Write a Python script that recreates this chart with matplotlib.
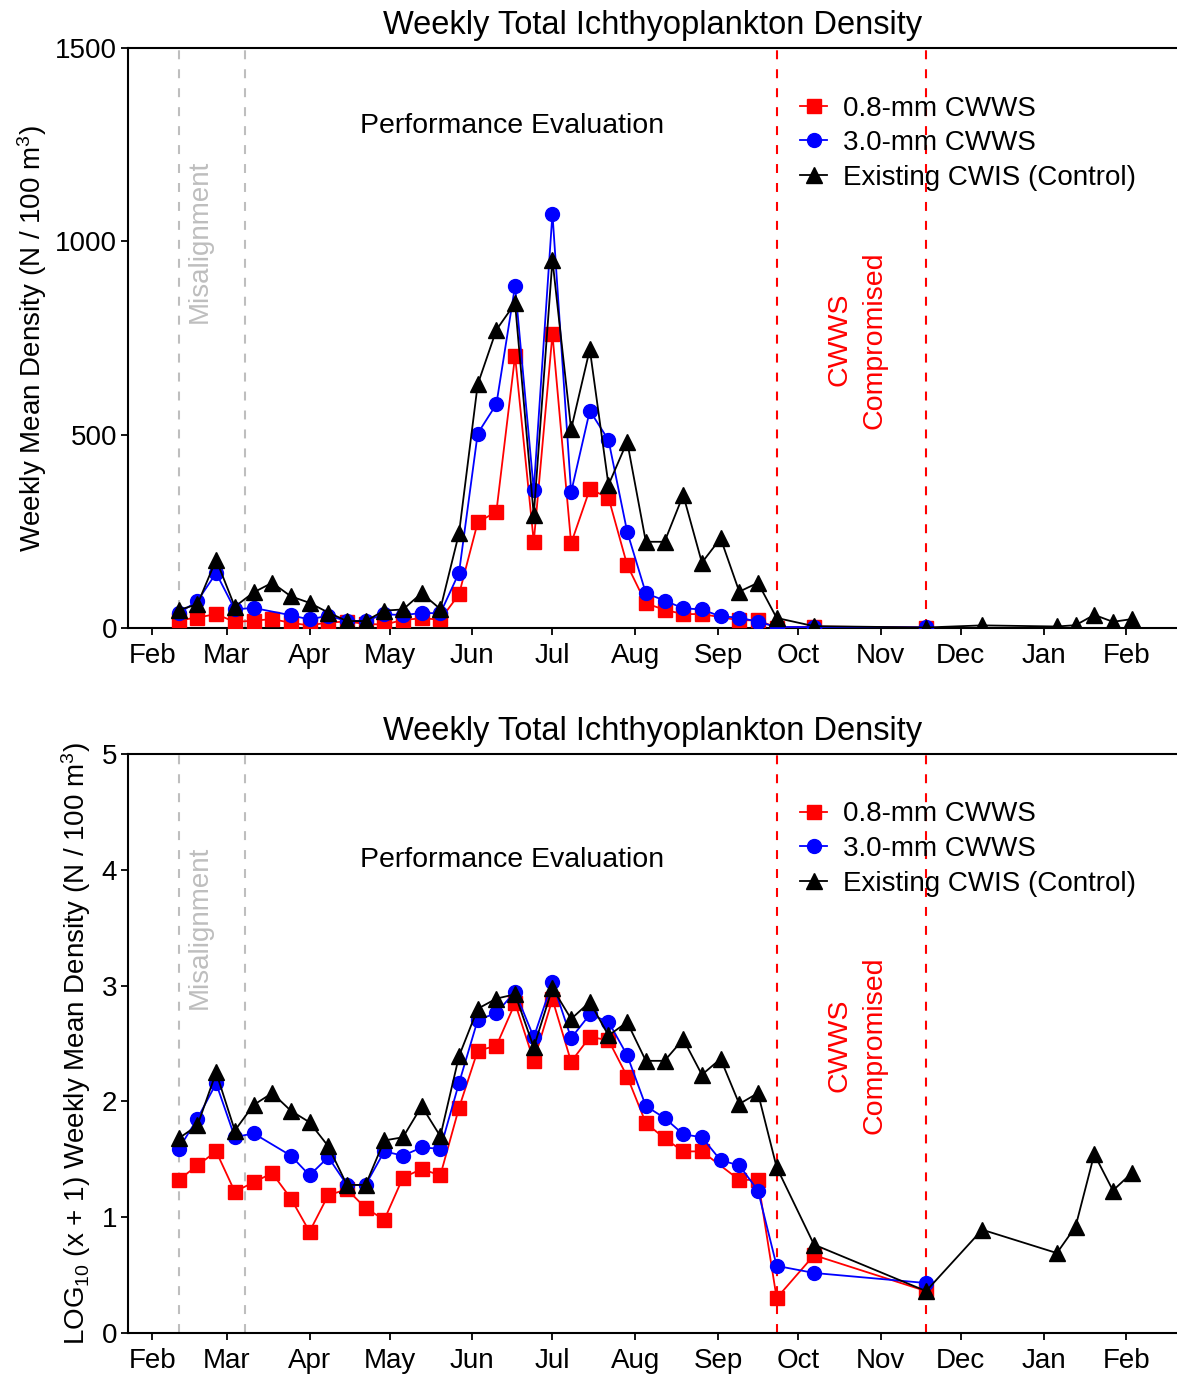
import numpy as np
import matplotlib
matplotlib.use("Agg")
import matplotlib.pyplot as plt
import matplotlib.dates as mdates
from matplotlib.lines import Line2D

plt.rcParams['font.family'] = ['Liberation Sans', 'DejaVu Sans']
plt.rcParams['mathtext.default'] = 'regular'

# weekly sampling, week 0 = 11 Feb
start = np.datetime64('2006-02-11')
weeks = list(range(33)) + [34, 40, 43, 47, 48, 49, 50, 51]
screen_weeks = list(range(33)) + [34, 40]

# weekly mean density (N / 100 m3)
fine_mesh = [20, 27, 36, 15.6, 19, 23, 13.5, 6.5, 14.5, 16.4, 11, 8.5, 21, 25, 22,
             87, 273, 301, 704, 223, 760, 219, 359, 337, 163, 64, 47, 36, 36, np.nan,
             20, 20, 1.0, 3.7, 1.3]
coarse_mesh = [38, 70, 142, 48, 52, np.nan, 33, 22, 32, 18, 18, 36, 33, 39, 38,
               143, 503, 579, 885, 357, 1072, 351, 562, 486, 249, 90, 71, 51, 48, 30,
               27, 16, 2.8, 2.3, 1.7]
control = [47, 61, 177, 55, 92, 117, 82, 65, 40, 18, 18, 45, 48, 90, 49,
           245, 630, 771, 840, 292, 952, 514, 721, 370, 482, 223, 223, 344, 169, 232,
           94, 117, 26, 4.8, 1.3, 6.8, 3.9, 7.3, 34, 16, 23]

misalign = ['2006-02-11', '2006-03-08']
compromised = ['2006-09-23', '2006-11-18']

series = [
    ('0.8-mm CWWS', screen_weeks, fine_mesh, 'red', 's', 10),
    ('3.0-mm CWWS', screen_weeks, coarse_mesh, 'blue', 'o', 10),
    ('Existing CWIS (Control)', weeks, control, 'black', '^', 11),
]


def draw_panel(ax, log_scale):
    for label, wk, vals, color, marker, ms in series:
        wk = np.array(wk)
        vals = np.array(vals, dtype=float)
        ok = ~np.isnan(vals)
        dates = start + wk[ok] * np.timedelta64(7, 'D')
        y = np.log10(vals[ok] + 1) if log_scale else vals[ok]
        ax.plot(dates, y, color=color, marker=marker, markersize=ms, lw=1.3,
                label=label, zorder=3)

    for d in misalign:
        ax.axvline(np.datetime64(d), color='#bebebe', lw=1.5, ls=(0, (4.3, 4.8)), zorder=1)
    for d in compromised:
        ax.axvline(np.datetime64(d), color='red', lw=1.5, ls=(0, (4.3, 4.8)), zorder=1)

    ax.set_xlim(np.datetime64('2006-01-23'), np.datetime64('2007-02-20'))
    ax.xaxis.set_major_locator(mdates.MonthLocator())
    ax.xaxis.set_major_formatter(mdates.DateFormatter('%b'))

    for side in ['left', 'bottom', 'top']:
        ax.spines[side].set_linewidth(1.5)
    ax.spines['right'].set_visible(False)
    ax.tick_params(direction='out', length=5, width=1.3, labelsize=20)
    ax.tick_params(axis='x', pad=6)
    ax.tick_params(axis='y', pad=3)

    ax.set_title('Weekly Total Ichthyoplankton Density', fontsize=23.5, pad=10)

    handles = [Line2D([], [], color=c, marker=m, markersize=s, lw=1.3)
               for _, _, _, c, m, s in series]
    ax.legend(handles, [s[0] for s in series], loc='upper left',
              bbox_to_anchor=(0.641, 0.918), frameon=False, fontsize=20,
              handlelength=0.95, handletextpad=0.58, labelspacing=0.31,
              borderpad=0, borderaxespad=0)


def add_notes(ax, perf_y, mis_y, cwws_y):
    tr = ax.get_xaxis_transform()
    ax.text(np.datetime64('2006-06-16'), perf_y, 'Performance Evaluation', transform=tr,
            fontsize=20.5, ha='center', va='center')
    ax.text(np.datetime64('2006-02-19'), mis_y, 'Misalignment', transform=tr,
            fontsize=20, color='#bebebe', rotation=90, ha='center', va='center')
    ax.text(np.datetime64('2006-10-23'), cwws_y, 'CWWS\nCompromised', transform=tr,
            fontsize=20.5, color='red', rotation=90, ha='center', va='center',
            multialignment='center', linespacing=1.45)


fig = plt.figure(figsize=(11.77, 13.76), dpi=100)
ax1 = fig.add_axes([0.1088, 0.5436, 0.8912, 0.4215])
ax2 = fig.add_axes([0.1088, 0.03125, 0.8912, 0.4208])

# raw densities
draw_panel(ax1, False)
ax1.set_ylim(0, 1500)
ax1.set_yticks([0, 500, 1000, 1500])
ax1.set_ylabel('Weekly Mean Density (N / 100 m$^3$)', fontsize=20, labelpad=4)
add_notes(ax1, 0.866, 0.667, 0.497)

# log-transformed densities
draw_panel(ax2, True)
ax2.set_ylim(0, 5)
ax2.set_yticks([0, 1, 2, 3, 4, 5])
ax2.set_ylabel('LOG$_{10}$ (x + 1) Weekly Mean Density (N / 100 m$^3$)', fontsize=20,
               labelpad=6)
add_notes(ax2, 0.817, 0.701, 0.497)

fig.savefig('out.png', dpi=100)
